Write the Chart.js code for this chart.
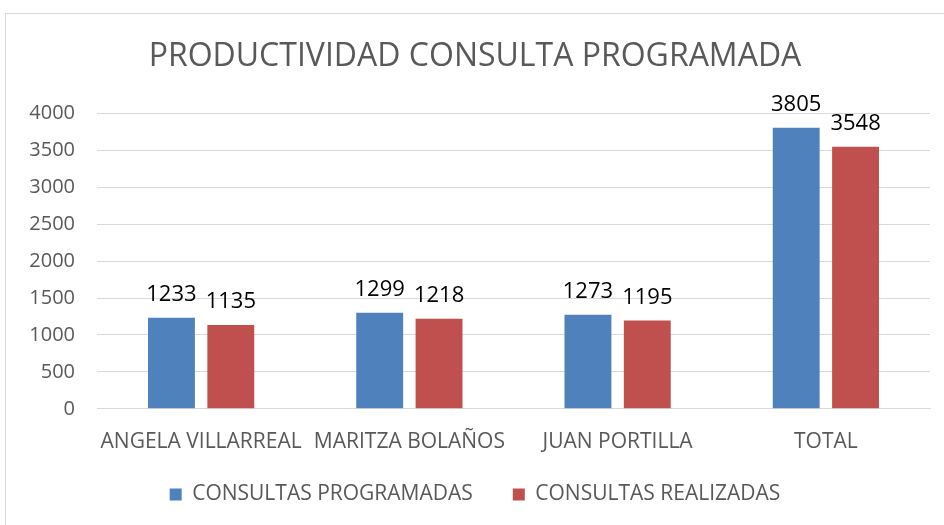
<!DOCTYPE html>
<html>
<head>
<meta charset="utf-8">
<script src="https://cdn.jsdelivr.net/npm/chart.js@4/dist/chart.umd.min.js"></script>
<style>
  body { margin: 0; background: #fff; }
  #wrap { position: relative; width: 944px; height: 525px; overflow: hidden; }
  #frame { position: absolute; left: 5px; top: 13px; width: 960px; height: 540px; border: 1px solid #d9d9d9; }
  #chart { position: absolute; left: 0; top: 0; }
</style>
</head>
<body>
<div id="wrap">
  <div id="frame"></div>
  <canvas id="chart" width="944" height="525"></canvas>
</div>
<script>
// Chart data
const categories = ['ANGELA VILLARREAL', 'MARITZA BOLAÑOS', 'JUAN PORTILLA', 'TOTAL'];
const programadas = [1233, 1299, 1273, 3805];
const realizadas = [1135, 1218, 1195, 3548];
const yTicks = [0, 500, 1000, 1500, 2000, 2500, 3000, 3500, 4000];

const FONT = "'Open Sans', sans-serif";

// Value labels above each bar
const barLabels = {
    id: 'barLabels',
    afterDatasetsDraw(chart) {
        const ctx = chart.ctx;
        ctx.save();
        ctx.fillStyle = '#000';
        ctx.font = '22px ' + FONT;
        ctx.textAlign = 'center';
        ctx.textBaseline = 'bottom';
        chart.data.datasets.forEach((ds, i) => {
            chart.getDatasetMeta(i).data.forEach((bar, j) => {
                ctx.fillText(ds.data[j], bar.x, bar.y - 12);
            });
        });
        ctx.restore();
    }
};

// legend padding is wide for the item spacing; report a shorter box to the layout
// so the extra vertical padding doesn't squeeze the plot, then grow it upwards again
const LEGEND_TRIM = 24;
const legendShift = {
    id: 'legendShift',
    beforeLayout(chart) {
        const lg = chart.legend;
        if (lg && !lg._trimmed) {
            const fit = lg.fit.bind(lg);
            lg.fit = function () { fit(); this.height -= LEGEND_TRIM; };
            lg._trimmed = true;
        }
    },
    afterLayout(chart) {
        chart.legend.top -= LEGEND_TRIM;
        chart.legend.height += LEGEND_TRIM;
    }
};

new Chart(document.getElementById('chart').getContext('2d'), {
    type: 'bar',
    data: {
        labels: categories,
        datasets: [
            {
                label: 'CONSULTAS PROGRAMADAS',
                data: programadas,
                backgroundColor: '#4f81bd',
                categoryPercentage: 0.57,
                barPercentage: 0.79
            },
            {
                label: 'CONSULTAS REALIZADAS',
                data: realizadas,
                backgroundColor: '#c0504d',
                categoryPercentage: 0.57,
                barPercentage: 0.79
            }
        ]
    },
    options: {
        responsive: false,
        animation: false,
        layout: { padding: { left: 20, right: 14, top: 0, bottom: 10 } },
        plugins: {
            title: {
                display: true,
                text: 'PRODUCTIVIDAD CONSULTA PROGRAMADA',
                color: '#595959',
                font: { family: FONT, size: 32, weight: 'normal' },
                padding: { top: 38, bottom: 37 }
            },
            legend: {
                position: 'bottom',
                labels: {
                    color: '#595959',
                    font: { family: FONT, size: 21 },
                    boxWidth: 12,
                    boxHeight: 12,
                    padding: 40
                }
            },
            tooltip: { enabled: false }
        },
        scales: {
            x: {
                grid: { display: false },
                border: { color: '#d9d9d9' },
                ticks: {
                    color: '#595959',
                    font: { family: FONT, size: 21 },
                    maxRotation: 0,
                    autoSkip: false,
                    padding: 13
                }
            },
            y: {
                min: 0,
                max: 4000,
                afterBuildTicks(scale) {
                    scale.ticks = yTicks.map(v => ({ value: v }));
                },
                afterFit(scale) { scale.width = 77; },
                grid: { color: '#d9d9d9', drawTicks: false },
                border: { display: false },
                ticks: {
                    color: '#595959',
                    font: { family: FONT, size: 20 },
                    padding: 22,
                    callback: v => String(v)
                }
            }
        }
    },
    plugins: [barLabels, legendShift]
});
</script>
</body>
</html>
